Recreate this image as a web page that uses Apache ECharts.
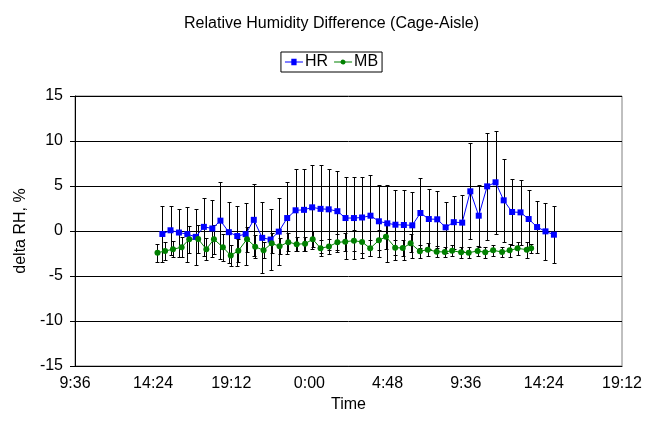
<!DOCTYPE html>
<html>
<head>
<meta charset="utf-8">
<script src="https://cdn.jsdelivr.net/npm/echarts@6/dist/echarts.min.js"></script>
<style>html,body{margin:0;padding:0;background:#fff}#c{width:663px;height:427px}</style>
</head>
<body>
<div id="c"></div>
<script>
// time values in minutes since midnight of day 1
var hrTime = [898,928,959,990,1021,1051,1082,1112,1143,1174,1205,1235,1266,1297,1327,1358,1389,1420,1450,1481,1511,1543,1573,1604,1634,1665,1696,1727,1757,1788,1819,1849,1880,1911,1942,1972,2003,2033,2064,2095,2126,2156,2187,2218,2248,2279,2310,2341];
var hrValue = [-0.33,0.08,-0.17,-0.35,-0.65,0.46,0.28,1.15,-0.13,-0.56,-0.35,1.24,-0.76,-0.95,-0.07,1.44,2.3,2.35,2.63,2.46,2.41,2.2,1.44,1.44,1.5,1.7,1.08,0.85,0.7,0.67,0.63,2.0,1.33,1.3,0.41,0.98,0.93,4.41,1.7,4.96,5.41,3.41,2.11,2.07,1.33,0.44,-0.04,-0.41];
var hrError = [3.07,2.7,2.67,3.04,3.1,3.23,3.22,4.3,3.37,3.37,3.44,4.0,3.93,3.4,3.74,4.03,4.55,4.56,4.67,4.89,4.48,4.48,4.59,4.52,4.52,4.48,4.0,4.3,3.89,3.85,3.67,3.93,3.37,3.14,2.85,2.95,3.1,5.33,3.44,5.96,5.74,4.63,3.67,3.63,3.19,2.93,3.19,3.2];

var mbTime = [880,908,937,969,997,1030,1060,1088,1121,1150,1178,1210,1240,1271,1301,1330,1362,1393,1424,1452,1481,1512,1543,1572,1604,1634,1664,1696,1722,1756,1784,1813,1847,1876,1909,1939,1966,1999,2027,2060,2088,2117,2150,2178,2207,2241,2257];
var mbValue = [-2.42,-2.22,-2.03,-1.8,-0.92,-0.89,-2.02,-0.91,-1.8,-2.72,-2.19,-0.91,-1.74,-2.15,-1.37,-1.7,-1.24,-1.46,-1.42,-0.91,-1.91,-1.72,-1.26,-1.19,-1.07,-1.22,-1.92,-1.04,-0.63,-1.85,-1.89,-1.37,-2.26,-2.07,-2.3,-2.33,-2.19,-2.37,-2.41,-2.22,-2.37,-2.15,-2.33,-2.15,-1.93,-2.07,-1.93];
var mbError = [1.0,1.0,0.9,1.1,1.5,1.6,1.2,1.6,1.5,1.2,1.3,1.4,1.3,0.9,1.1,0.9,1.0,0.8,0.8,0.9,0.9,0.8,0.9,1.0,1.2,1.2,0.9,1.1,1.4,0.8,0.9,1.0,0.7,0.7,0.6,0.6,0.6,0.6,0.6,0.6,0.6,0.6,0.55,0.7,0.7,0.9,0.5];

var xTicks = {min: 576, max: 2592, interval: 288};   // 9:36 .. 19:12, every 4:48
var yTicks = {min: -15, max: 15, interval: 5};

function pairs(t, v) { return t.map(function (x, i) { return [x, v[i]]; }); }
function bars(t, v, e) { return t.map(function (x, i) { return [x, v[i] - e[i], v[i] + e[i]]; }); }

function errRender(params, api) {
  var x = api.value(0), lo = api.value(1), hi = api.value(2);
  var a = api.coord([x, hi]), b = api.coord([x, lo]);
  var px = Math.round(a[0]) + 0.5, ya = Math.round(a[1]) + 0.5, yb = Math.round(b[1]) + 0.5, w = 2;
  var st = {stroke: '#000', lineWidth: 1};
  return {type: 'group', children: [
    {type: 'line', shape: {x1: px, y1: ya, x2: px, y2: yb}, style: st},
    {type: 'line', shape: {x1: px - w, y1: ya, x2: px + w, y2: ya}, style: st},
    {type: 'line', shape: {x1: px - w, y1: yb, x2: px + w, y2: yb}, style: st}
  ]};
}

function fmtTime(v) {
  var m = Math.round(v) % 1440;
  var h = Math.floor(m / 60), mm = m % 60;
  return h + ':' + (mm < 10 ? '0' : '') + mm;
}

var FONT = 'Liberation Sans, Arial, sans-serif';
var FS = 16;
var chart = echarts.init(document.getElementById('c'), null, {renderer: 'canvas'});
chart.setOption({
  animation: false,
  backgroundColor: '#fff',
  textStyle: {fontFamily: FONT, color: '#000'},
  title: {
    text: 'Relative Humidity Difference (Cage-Aisle)',
    left: 'center', top: 11,
    textStyle: {fontSize: FS, fontWeight: 'normal', color: '#000', fontFamily: FONT}
  },
  legend: {
    data: [
      {name: 'HR', icon: 'path://M0,3.5L6,3.5L6,1L11,1L11,3.5L17,3.5L17,4.5L11,4.5L11,7L6,7L6,4.5L0,4.5Z', itemStyle: {color: '#0000ff'}},
      {name: 'MB', icon: 'path://M0,3.5L6.1,3.5A2.5,2.5,0,0,1,10.9,3.5L17,3.5L17,4.5L10.9,4.5A2.5,2.5,0,0,1,6.1,4.5L0,4.5Z', itemStyle: {color: '#008000'}}
    ],
    top: 52, left: 'center',
    borderColor: '#000', borderWidth: 1, padding: [2, 4, 2, 4],
    itemWidth: 18, itemHeight: 8, itemGap: 6,
    textStyle: {fontSize: FS, color: '#000', fontFamily: FONT, padding: [0, 0, 0, -3]}
  },
  grid: {left: 75, right: 41, top: 96, bottom: 61, show: true, borderColor: '#808080', borderWidth: 1},
  xAxis: {
    type: 'value', min: xTicks.min, max: xTicks.max, interval: xTicks.interval,
    name: 'Time', nameLocation: 'middle', nameGap: 23,
    nameTextStyle: {fontSize: FS, color: '#000', fontFamily: FONT},
    axisLine: {show: true, onZero: false, lineStyle: {color: '#000', width: 1}},
    axisTick: {show: false},
    splitLine: {show: false},
    axisLabel: {formatter: fmtTime, fontSize: FS, color: '#000', margin: 10, fontFamily: FONT}
  },
  yAxis: {
    type: 'value', min: yTicks.min, max: yTicks.max, interval: yTicks.interval,
    name: 'delta RH, %', nameLocation: 'middle', nameGap: 38,
    nameTextStyle: {fontSize: FS, color: '#000', fontFamily: FONT},
    axisLine: {show: true, lineStyle: {color: '#000', width: 1}},
    axisTick: {show: true, length: 5, lineStyle: {color: '#000'}},
    splitLine: {show: true, lineStyle: {color: '#000', width: 1}},
    axisLabel: {fontSize: FS, color: '#000', margin: 12, fontFamily: FONT}
  },
  series: [
    {name: 'HR err', type: 'custom', renderItem: errRender, data: bars(hrTime, hrValue, hrError),
     encode: {x: 0, y: [1, 2]}, z: 1, silent: true},
    {name: 'MB err', type: 'custom', renderItem: errRender, data: bars(mbTime, mbValue, mbError),
     encode: {x: 0, y: [1, 2]}, z: 1, silent: true},
    {name: 'HR', type: 'line', data: pairs(hrTime, hrValue), z: 3,
     symbol: 'rect', symbolSize: 6, showAllSymbol: true,
     lineStyle: {color: '#0000ff', width: 1}, itemStyle: {color: '#0000ff'}},
    {name: 'MB', type: 'line', data: pairs(mbTime, mbValue), z: 3,
     symbol: 'circle', symbolSize: 6, showAllSymbol: true,
     lineStyle: {color: '#008000', width: 1}, itemStyle: {color: '#008000'}}
  ]
});
</script>
</body>
</html>
